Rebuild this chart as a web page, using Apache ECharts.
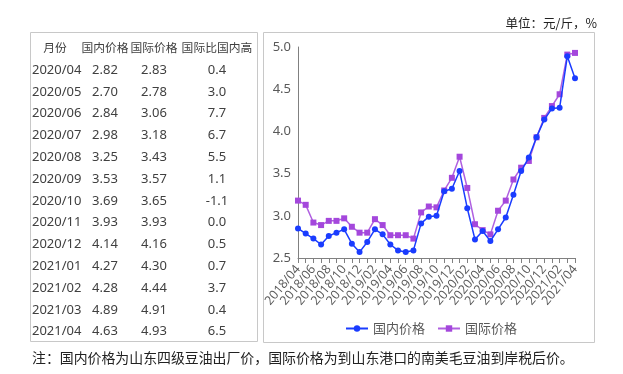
<!DOCTYPE html>
<html><head><meta charset="utf-8">
<script src="https://cdn.jsdelivr.net/npm/echarts@6/dist/echarts.min.js"></script>
<style>html,body{margin:0;padding:0;background:#fff;}#c{width:623px;height:374px;}</style>
</head><body><div id="c"></div>
<script>
var months = ['2018/04','2018/05','2018/06','2018/07','2018/08','2018/09','2018/10','2018/11','2018/12',
'2019/01','2019/02','2019/03','2019/04','2019/05','2019/06','2019/07','2019/08','2019/09','2019/10','2019/11','2019/12',
'2020/01','2020/02','2020/03','2020/04','2020/05','2020/06','2020/07','2020/08','2020/09','2020/10','2020/11','2020/12',
'2021/01','2021/02','2021/03','2021/04'];
var domestic = [2.85,2.79,2.73,2.66,2.76,2.80,2.84,2.67,2.57,2.69,2.84,2.78,2.66,2.59,2.57,2.59,2.91,2.99,3.00,3.29,3.32,3.53,3.09,2.72,
2.82,2.70,2.84,2.98,3.25,3.53,3.69,3.93,4.14,4.27,4.28,4.89,4.63];
var international = [3.18,3.13,2.92,2.89,2.94,2.94,2.97,2.87,2.80,2.80,2.96,2.89,2.77,2.77,2.77,2.73,3.04,3.11,3.10,3.30,3.45,3.70,3.33,2.90,
2.83,2.78,3.06,3.18,3.43,3.57,3.65,3.93,4.16,4.30,4.44,4.91,4.93];

var tableHeader = ['月份','国内价格','国际价格','国际比国内高'];
var tableMonths = ['2020/04','2020/05','2020/06','2020/07','2020/08','2020/09','2020/10','2020/11','2020/12','2021/01','2021/02','2021/03','2021/04'];
var tableDomestic = ['2.82','2.70','2.84','2.98','3.25','3.53','3.69','3.93','4.14','4.27','4.28','4.89','4.63'];
var tableIntl = ['2.83','2.78','3.06','3.18','3.43','3.57','3.65','3.93','4.16','4.30','4.44','4.91','4.93'];
var tableDiff = ['0.4','3.0','7.7','6.7','5.5','1.1','-1.1','0.0','0.5','0.7','3.7','0.4','6.5'];

var unitText = '单位：元/斤，%';
var noteText = '注：国内价格为山东四级豆油出厂价，国际价格为到山东港口的南美毛豆油到岸税后价。';

var FONT = '"Noto Sans","Noto Sans CJK SC",sans-serif';
var txtColor = '#404040';
var graphics = [];
graphics.push({type:'rect', shape:{x:30.5,y:32.5,width:227,height:309}, style:{fill:'none',stroke:'#c8c8c8',lineWidth:1}, silent:true});
graphics.push({type:'rect', shape:{x:263.5,y:32.5,width:331,height:310}, style:{fill:'none',stroke:'#c8c8c8',lineWidth:1}, silent:true});
var colX = [55,105,154,217];
tableHeader.forEach(function(h,i){
  graphics.push({type:'text', x:colX[i], y:48, style:{text:h, fill:txtColor, font:'11.8px "Noto Sans CJK SC",sans-serif', textAlign:'center', textVerticalAlign:'middle'}});
});
tableMonths.forEach(function(m,r){
  var y = 70 + r*21.8;
  graphics.push({type:'text', x:32, y:y, style:{text:m, fill:txtColor, font:'13px '+FONT, textAlign:'left', textVerticalAlign:'middle'}});
  graphics.push({type:'text', x:colX[1], y:y, style:{text:tableDomestic[r], fill:txtColor, font:'13px '+FONT, textAlign:'center', textVerticalAlign:'middle'}});
  graphics.push({type:'text', x:colX[2], y:y, style:{text:tableIntl[r], fill:txtColor, font:'13px '+FONT, textAlign:'center', textVerticalAlign:'middle'}});
  graphics.push({type:'text', x:colX[3], y:y, style:{text:tableDiff[r], fill:txtColor, font:'13px '+FONT, textAlign:'center', textVerticalAlign:'middle'}});
});
graphics.push({type:'text', x:597, y:23, style:{text:unitText, fill:'#222', font:'12.5px "Noto Sans CJK SC",serif', textAlign:'right', textVerticalAlign:'middle'}});
graphics.push({type:'text', x:32, y:358, style:{text:noteText, fill:'#222', font:'13.9px "Noto Sans CJK SC",serif', textAlign:'left', textVerticalAlign:'middle'}});

var chart = echarts.init(document.getElementById('c'), null, {renderer:'canvas'});
chart.setOption({
  animation:false,
  backgroundColor:'#fff',
  textStyle:{fontFamily:FONT},
  grid:{left:298, right:48, top:47, bottom:116, containLabel:false},
  legend:{
    data:['国内价格','国际价格'], left:340, top:317, itemWidth:22, itemHeight:8, itemGap:12,
    textStyle:{fontSize:13, color:'#595959', fontFamily:'"Noto Sans CJK SC",sans-serif'}
  },
  xAxis:{
    type:'category', data:months, boundaryGap:false,
    axisLine:{lineStyle:{color:'#808080'}},
    axisTick:{show:true, interval:0, length:5, lineStyle:{color:'#808080'}},
    axisLabel:{interval:0, rotate:50, fontSize:12.5, color:'#595959', margin:9, fontFamily:'"Open Sans",sans-serif',
               hideOverlap:false,
               formatter:function(v, idx){ return idx % 2 === 0 ? v : ''; }}
  },
  yAxis:{
    type:'value', min:2.5, max:5.0, interval:0.5,
    axisLine:{show:true, lineStyle:{color:'#808080'}},
    axisTick:{show:false},
    splitLine:{show:false},
    axisLabel:{fontSize:13, color:'#595959', margin:7, formatter:function(v){return v.toFixed(1);}, fontFamily:FONT}
  },
  series:[
    {name:'国内价格', type:'line', data:domestic, symbol:'circle', symbolSize:6, showAllSymbol:true,
     itemStyle:{color:'#1a3cff'}, lineStyle:{color:'#1a3cff', width:1.5}, z:3},
    {name:'国际价格', type:'line', data:international, symbol:'rect', symbolSize:6, showAllSymbol:true,
     itemStyle:{color:'#a447dc'}, lineStyle:{color:'#b060e0', width:1.5}, z:2}
  ],
  graphic:graphics
});
</script></body></html>
